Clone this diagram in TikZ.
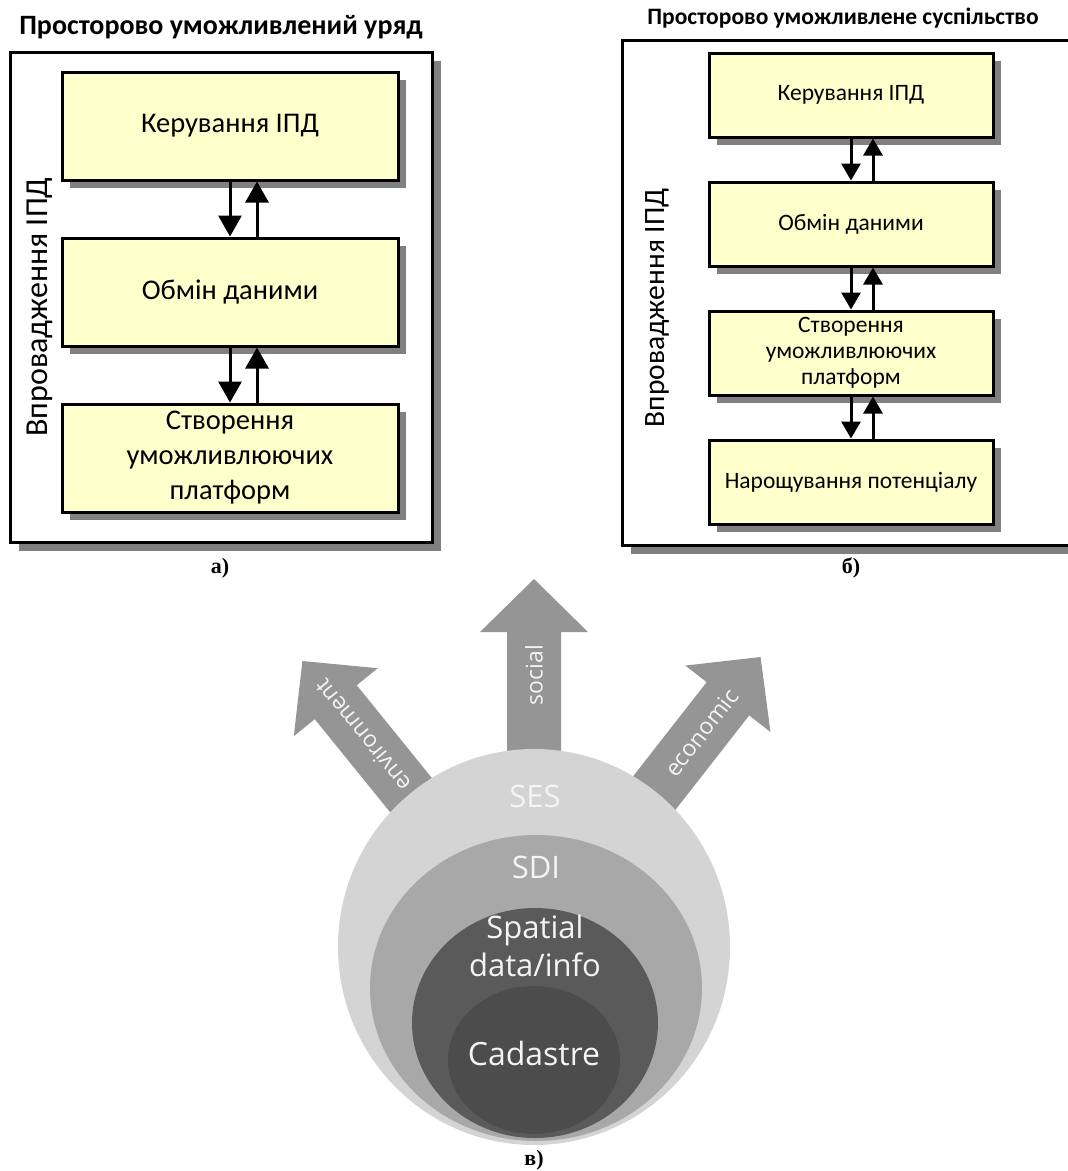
\documentclass[tikz,border=0pt]{standalone}
\usepackage{fontspec}
\setmainfont{Carlito}
\newfontfamily\ringfont{Open Sans}
\newfontfamily\capfont{Liberation Serif}
\usepackage{xcolor}
\usetikzlibrary{arrows.meta,positioning,shadows}

\definecolor{boxyellow}{HTML}{FFFFCC}
\definecolor{shadegray}{HTML}{808080}
\definecolor{arrowgray}{HTML}{959595}
\definecolor{sescol}{HTML}{D4D4D4}
\definecolor{sdicol}{HTML}{A8A8A8}
\definecolor{infocol}{HTML}{5A5A5A}
\definecolor{cadcol}{HTML}{4C4C4C}
\definecolor{ringtext}{HTML}{F4F4F4}

\begin{document}
\begin{tikzpicture}[
  x=1pt, y=1pt,
  node distance=42pt,
  frame/.style={draw, line width=3pt, fill=white,
    drop shadow={shadow xshift=9pt, shadow yshift=-9pt, fill=shadegray, opacity=1}},
  boxa/.style={draw, line width=3pt, fill=boxyellow, minimum width=336pt,
    minimum height=108pt, align=center, font=\fontsize{28.5}{35}\selectfont,
    drop shadow={shadow xshift=8pt, shadow yshift=-8pt, fill=shadegray, opacity=1}},
  boxb/.style={boxa, minimum width=284pt, minimum height=84pt,
    font=\fontsize{23.5}{26}\selectfont},
  title/.style={font=\bfseries\fontsize{28}{30}\selectfont},
  vlabel/.style={rotate=90, font=\fontsize{32}{34}\selectfont},
  flowa/.style={-{Triangle[length=21pt, width=23pt]}, line width=3pt},
  flowb/.style={-{Triangle[length=17pt, width=19pt]}, line width=3pt},
  caption/.style={font=\capfont\bfseries\fontsize{22}{24}\selectfont},
  ring/.style={text=ringtext, align=center, font=\ringfont\fontsize{31}{38}\selectfont},
  arrtext/.style={text=ringtext, font=\ringfont\fontsize{23}{26}\selectfont},
  pics/fatarrow/.style={code={
    \fill[arrowgray] (0,-27) -- (315,-27) -- (315,-54) -- (368,0)
      -- (315,54) -- (315,27) -- (0,27) -- cycle;}}
]
\useasboundingbox (0,0) rectangle (1068,-1171);
\clip (0,0) rectangle (1068,-1171);

% a) spatially enabled government
\node[title] (tgov) at (221,-27) {Просторово уможливлений уряд};
\draw[frame] (10,-52) rectangle (432,-542);
\node[vlabel] (vgov) at (40,-307) {Впровадження ІПД};

\node[boxa] (ka) at (230,-126) {Керування ІПД};
\node[boxa, below=55pt of ka] (oa) {Обмін даними};
\node[boxa, below=55pt of oa] (sa) {Створення\\уможливлюючих\\платформ};

\draw[flowa] (ka.south) -- (oa.north);
\draw[flowa] ([xshift=27pt]oa.north) -- ([xshift=27pt]ka.south);
\draw[flowa] (oa.south) -- (sa.north);
\draw[flowa] ([xshift=27pt]sa.north) -- ([xshift=27pt]oa.south);

\node[caption] (capa) at (220,-568) {а)};

% b) spatially enabled society
\node[title, font=\bfseries\fontsize{23.5}{26}\selectfont] (tsoc) at (843,-18)
  {Просторово уможливлене суспільство};
\draw[frame] (622,-40) rectangle (1090,-545);
\node[vlabel, font=\fontsize{29.5}{31}\selectfont] (vsoc) at (657,-308) {Впровадження ІПД};

\node[boxb] (kb) at (851,-95) {Керування ІПД};
\node[boxb, below=of kb] (ob) {Обмін даними};
\node[boxb, below=of ob] (sb) {Створення\\уможливлюючих\\платформ};
\node[boxb, below=of sb] (nb) {Нарощування потенціалу};

\draw[flowb] (kb.south) -- (ob.north);
\draw[flowb] ([xshift=22pt]ob.north) -- ([xshift=22pt]kb.south);
\draw[flowb] (ob.south) -- (sb.north);
\draw[flowb] ([xshift=22pt]sb.north) -- ([xshift=22pt]ob.south);
\draw[flowb] (sb.south) -- (nb.north);
\draw[flowb] ([xshift=22pt]nb.north) -- ([xshift=22pt]sb.south);

\node[caption] (capb) at (851,-568) {б)};

% c) nested circles
\coordinate (ctr) at (534,-947);
\foreach \ang/\word in {129/environment, 90/social, 52/economic} {
  \pic[rotate=\ang] at (ctr) {fatarrow};
  \node[arrtext, rotate=\ang] (arr-\word) at ([shift={(\ang:272)}]ctr) {\word};
}

\fill[sescol] (534,-947) ellipse [x radius=196, y radius=198];
\fill[sdicol] (536,-988) ellipse [x radius=166, y radius=153];
\fill[infocol] (535,-1023) ellipse [x radius=123, y radius=115];
\fill[cadcol] (534,-1060) ellipse [x radius=86, y radius=74];

\node[ring] (ses) at (535,-796) {SES};
\node[ring] (sdi) at (536,-867) {SDI};
\node[ring] (info) at (535,-946) {Spatial\\data/info};
\node[ring, font=\ringfont\fontsize{32}{38}\selectfont] (cad) at (534,-1053) {Cadastre};

\node[caption] (capc) at (534,-1160) {в)};

\end{tikzpicture}
\end{document}
